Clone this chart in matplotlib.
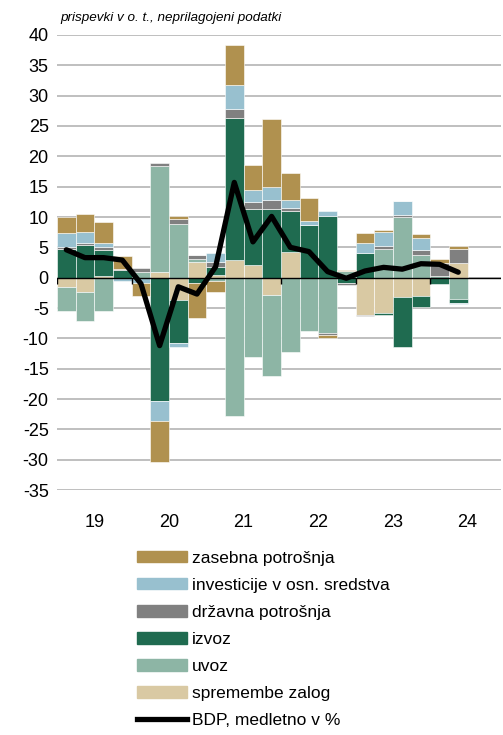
import matplotlib
matplotlib.use("Agg")
import matplotlib.pyplot as plt
import numpy as np
from matplotlib.patches import Patch
from matplotlib.lines import Line2D

plt.rcParams['font.family'] = ['Liberation Sans', 'DejaVu Sans']
plt.rcParams['axes.unicode_minus'] = False

# cetrtletja 2019Q1 - 2024Q2
years = ["19", "20", "21", "22", "23", "24"]

# prispevki k rasti BDP (o. t.)
zalog = [-1.5, -2.4, 0.3, 0.0, 0.0, 0.9, -3.7, 2.6, 0.5, 2.9, 2.1,
         -2.9, 4.3, 0.0, 0.0, 0.0, -6.2, -5.8, -3.15, -3.0, 0.0, 2.4]
uvoz = [-4.0, -4.8, -5.5, 0.0, 0.9, 17.5, 8.9, 0.4, -0.6, -22.8, -13.0,
        -13.3, -12.3, -8.8, -9.1, 1.1, 0.0, 4.65, 10.0, 3.7, 0.3, -3.45]
izvoz = [4.65, 5.37, 4.3, 1.2, 0.0, -20.3, -7.0, -0.9, 1.3, 23.4, 9.25,
         11.35, 6.66, 8.75, 10.1, -0.9, 4.04, -0.4, -8.3, -1.8, -1.0, -0.65]
drzavna = [0.33, 0.39, 0.39, 0.25, 0.77, 0.45, 0.75, 0.7, 0.8, 1.45, 1.15,
           1.45, 0.55, 0.0, -0.4, -0.35, -0.1, 0.5, 0.4, 0.8, 2.2, 2.4]
investicije = [2.44, 1.72, 0.66, -0.55, -0.9, -3.4, -0.8, 0.0, 1.5, 4.0, 2.0,
               2.2, 1.3, 0.65, 0.85, 0.0, 1.7, 2.35, 2.2, 2.0, 0.0, -0.3]
zasebna = [2.6, 2.99, 3.54, 2.2, -2.1, -6.75, 0.5, -5.8, -1.7, 6.6, 4.1,
           11.1, 4.5, 3.8, -0.5, 0.15, 1.65, 0.3, 0.1, 0.7, 0.5, 0.46]
bdp = [4.6, 3.3, 3.3, 2.9, -1.0, -11.2, -1.5, -2.7, 1.8, 15.7, 5.9, 10.1,
       5.0, 4.3, 1.0, -0.1, 1.1, 1.7, 1.4, 2.3, 2.2, 0.9]

# vrstni red zlaganja (od nicle navzven)
series = [
    ("spremembe zalog", zalog, "#D9C9A3"),
    ("uvoz", uvoz, "#8DB5A5"),
    ("izvoz", izvoz, "#1F6B50"),
    ("državna potrošnja", drzavna, "#808080"),
    ("investicije v osn. sredstva", investicije, "#98C0CF"),
    ("zasebna potrošnja", zasebna, "#B0914F"),
]

n = len(bdp)
x = np.arange(n)

fig = plt.figure(figsize=(5.03, 7.35), dpi=100)
ax = fig.add_axes([0.1133, 0.3333, 0.8827, 0.6191])

pos = np.zeros(n)
neg = np.zeros(n)
for name, vals, col in series:
    v = np.array(vals)
    bottom = np.where(v >= 0, pos, neg)
    ax.bar(x, v, width=1.0, bottom=bottom, color=col, edgecolor="white",
           linewidth=0.4, zorder=2)
    pos = pos + np.where(v > 0, v, 0)
    neg = neg + np.where(v < 0, v, 0)

ax.plot(x, bdp, color="black", lw=3.8, solid_joinstyle="round",
        solid_capstyle="round", zorder=4)

# os
ax.set_ylim(-35, 40)
ax.set_xlim(-0.5, 23.29)
ax.set_yticks(np.arange(-35, 41, 5))
ax.grid(axis="y", color="#b4b4b4", lw=1.2, zorder=0)
ax.set_axisbelow(True)
ax.axhline(0, color="black", lw=1.0, zorder=3)
bounds = np.arange(-0.5, n, 4)
ax.vlines(bounds, -1.0, 0, colors="black", lw=1.0, zorder=3)

ax.set_xticks(np.arange(1.5, n, 4))
ax.set_xticklabels(years)
ax.tick_params(axis="x", length=0, pad=17, labelsize=13)
ax.tick_params(axis="y", length=0, pad=6, labelsize=13)
for s in ax.spines.values():
    s.set_visible(False)

fig.text(0.119, 0.975, "prispevki v o. t., neprilagojeni podatki",
         style="italic", fontsize=9.7, va="center", ha="left")

# legenda
handles = [Patch(color=c, label=nm) for nm, v, c in series[::-1][:3]]
handles += [Patch(color="#1F6B50", label="izvoz"),
            Patch(color="#8DB5A5", label="uvoz"),
            Patch(color="#D9C9A3", label="spremembe zalog"),
            Line2D([0], [0], color="black", lw=3.8, label="BDP, medletno v %")]
fig.legend(handles=handles, loc="upper left", bbox_to_anchor=(0.272, 0.251),
           frameon=False, fontsize=12.5, handlelength=2.9, handleheight=0.65,
           handletextpad=0.25, labelspacing=0.70, borderpad=0, borderaxespad=0)

fig.savefig("out.png", dpi=100)
